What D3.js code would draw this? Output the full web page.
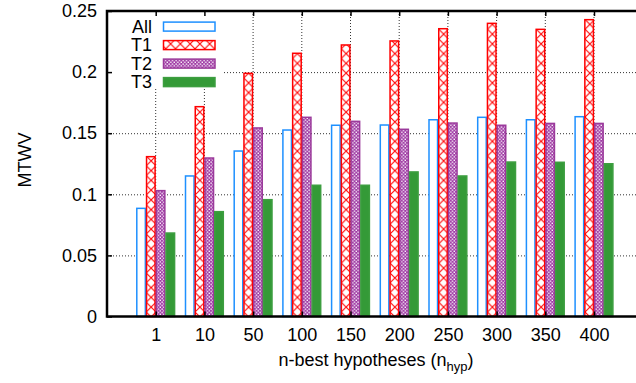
<!DOCTYPE html>
<html>
<head>
<meta charset="utf-8">
<script src="https://cdn.jsdelivr.net/npm/d3@7"></script>
<style>
  html, body { margin: 0; padding: 0; background: #fff; }
  svg { display: block; }
  text { font-family: "Liberation Sans", Arial, Helvetica, sans-serif; fill: #000; }
</style>
</head>
<body>
<svg id="chart" width="636" height="383"></svg>
<script>
// ---- data ----
const categories = ["1", "10", "50", "100", "150", "200", "250", "300", "350", "400"];
const seriesNames = ["All", "T1", "T2", "T3"];
const allValues = [0.0885, 0.115, 0.1354, 0.1526, 0.1565, 0.1567, 0.161, 0.163, 0.161, 0.1635];
const t1Values  = [0.1308, 0.1717, 0.199, 0.2154, 0.2222, 0.2255, 0.2355, 0.2399, 0.235, 0.2429];
const t2Values  = [0.103, 0.1297, 0.1543, 0.163, 0.1597, 0.1532, 0.1583, 0.1565, 0.158, 0.158];
const t3Values  = [0.0683, 0.0858, 0.0956, 0.1074, 0.1074, 0.1183, 0.115, 0.1264, 0.1262, 0.125];
const yTicks = [0, 0.05, 0.1, 0.15, 0.2, 0.25];
const yTickLabels = ["0", "0.05", "0.1", "0.15", "0.2", "0.25"];
const yLabel = "MTWV";

const seriesValues = [allValues, t1Values, t2Values, t3Values];

// ---- layout ----
const svg = d3.select("#chart");
const pL = 107, pT = 11, pB = 316.5, pR = 642.7;
const FS = 18;

const x = d3.scaleLinear().domain([-1, categories.length]).range([pL, pR]);
const inner = d3.scaleBand().domain(seriesNames).range([-19.5, 19.5]).padding(0);
const y = d3.scaleLinear().domain([0, 0.25]).range([pB, pT]);

// patterns
const defs = svg.append("defs");
const p1 = defs.append("pattern").attr("id", "patT1").attr("patternUnits", "userSpaceOnUse")
  .attr("width", 9.75).attr("height", 9.75);
p1.append("rect").attr("width", 9.75).attr("height", 9.75).attr("fill", "#fff");
p1.append("path").attr("d", "M0,0L9.75,9.75M9.75,0L0,9.75").attr("stroke", "#ff0000").attr("stroke-width", 1.1);
const p2 = defs.append("pattern").attr("id", "patT2").attr("patternUnits", "userSpaceOnUse")
  .attr("width", 3.5).attr("height", 3.5);
p2.append("rect").attr("width", 3.5).attr("height", 3.5).attr("fill", "#a03ca5");
p2.append("rect").attr("x", 0.4).attr("y", 0.4).attr("width", 1.4).attr("height", 1.4).attr("fill", "#fff");
p2.append("rect").attr("x", 2.15).attr("y", 2.15).attr("width", 1.4).attr("height", 1.4).attr("fill", "#fff");

const styles = {
  All: { fill: "#fff", stroke: "#1e90ff" },
  T1:  { fill: "url(#patT1)", stroke: "#ff0000" },
  T2:  { fill: "url(#patT2)", stroke: "#9b3a9b" },
  T3:  { fill: "#349a37", stroke: "#3d9e40" }
};

// grid
const grid = svg.append("g").attr("stroke", "#333").attr("stroke-width", 1).attr("stroke-dasharray", "1,2");
grid.selectAll("line.h").data(yTicks.slice(1, -1)).enter().append("line")
  .attr("x1", pL).attr("x2", 636).attr("y1", d => y(d) + 0.5).attr("y2", d => y(d) + 0.5);
grid.selectAll("line.v").data(d3.range(categories.length)).enter().append("line")
  .attr("x1", d => x(d)).attr("x2", d => x(d)).attr("y1", pT).attr("y2", pB);

// legend background (opaque)
svg.append("rect").attr("x", pL).attr("y", pT).attr("width", 117).attr("height", 78).attr("fill", "#fff");

// bars
const bars = svg.append("g");
seriesNames.forEach((s, si) => {
  bars.append("g").selectAll("rect").data(seriesValues[si]).enter().append("rect")
    .attr("x", (d, i) => x(i) + inner(s) + 0.6)
    .attr("width", inner.bandwidth() - 1.2)
    .attr("y", d => y(d))
    .attr("height", d => pB - y(d))
    .attr("fill", styles[s].fill)
    .attr("stroke", styles[s].stroke)
    .attr("stroke-width", 1.5);
});

// axes
const yAxis = d3.axisLeft(y).tickValues(yTicks).tickFormat((d, i) => yTickLabels[i]).tickSize(-5).tickPadding(10);
const gy = svg.append("g").attr("transform", `translate(${pL},0)`).call(yAxis);
const xAxis = d3.axisBottom(x).tickValues(d3.range(categories.length)).tickFormat(i => categories[i]).tickSize(-5).tickPadding(12);
const gx = svg.append("g").attr("transform", `translate(0,${pB})`).call(xAxis);
const xTop = d3.axisTop(x).tickValues(d3.range(categories.length)).tickFormat("").tickSize(-5);
const gxt = svg.append("g").attr("transform", `translate(0,${pT})`).call(xTop);
[gy, gx, gxt].forEach(g => {
  g.select(".domain").remove();
  g.selectAll(".tick line").attr("stroke", "#000").attr("stroke-width", 1.5);
  g.selectAll("text").style("font-size", FS + "px").style("font-family", "Liberation Sans, Arial, sans-serif");
});

// frame
svg.append("rect").attr("x", pL).attr("y", pT).attr("width", pR - pL).attr("height", pB - pT)
  .attr("fill", "none").attr("stroke", "#000").attr("stroke-width", 2.5);

// legend
const lg = svg.append("g");
seriesNames.forEach((s, i) => {
  const cy = 26.6 + i * 18.5;
  lg.append("text").attr("x", 152).attr("y", cy).attr("dy", "0.35em").attr("text-anchor", "end")
    .style("font-size", FS + "px").text(s);
  lg.append("rect").attr("x", 163.5).attr("y", cy - 4.5).attr("width", 51.5).attr("height", 9)
    .attr("fill", styles[s].fill).attr("stroke", styles[s].stroke).attr("stroke-width", 1.5);
});

// axis labels
svg.append("text").attr("transform", "translate(31,160) rotate(-90)").attr("text-anchor", "middle")
  .style("font-size", FS + "px").text(yLabel);
const xl = svg.append("text").attr("x", 376).attr("y", 366).attr("text-anchor", "middle").style("font-size", FS + "px");
xl.append("tspan").text("n-best hypotheses (n");
xl.append("tspan").attr("dy", 5).style("font-size", "13px").text("hyp");
xl.append("tspan").attr("dy", -5).text(")");
</script>
</body>
</html>
